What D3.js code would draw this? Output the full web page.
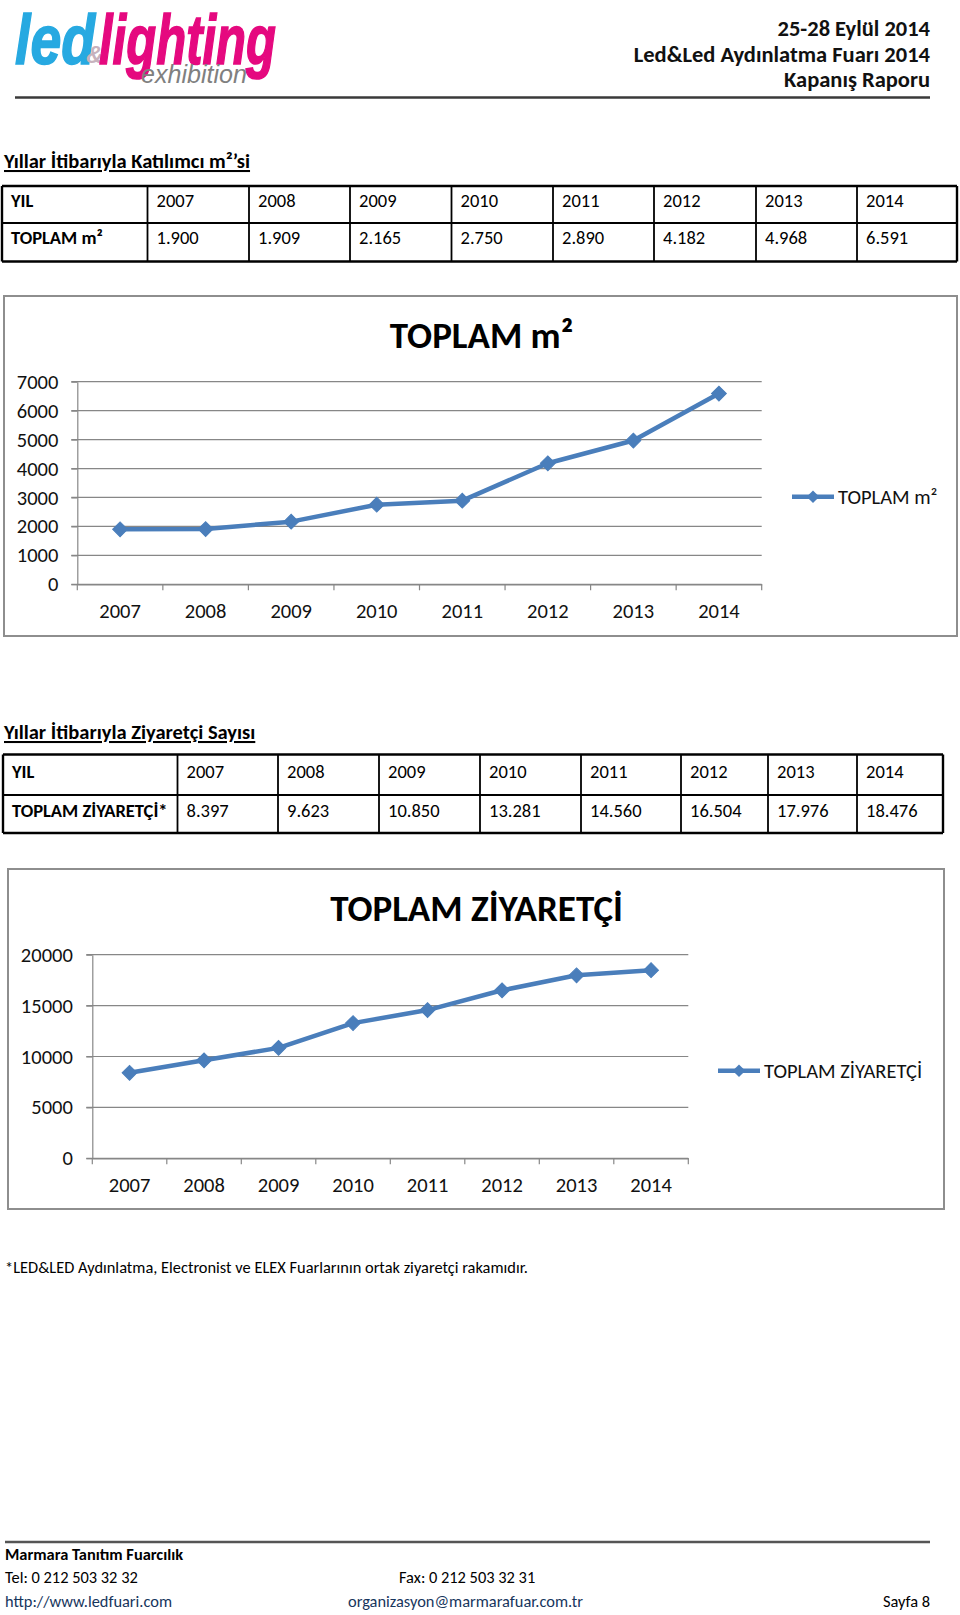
<!DOCTYPE html>
<html><head><meta charset="utf-8">
<script src="https://cdn.jsdelivr.net/npm/d3@7"></script>
<style>
body{margin:0;background:#fff}
svg{display:block}
</style></head><body>
<script>
// ---------- DATA ----------
const years = ["2007","2008","2009","2010","2011","2012","2013","2014"];
const areaValues = [1900,1909,2165,2750,2890,4182,4968,6591];
const visitorValues = [8397,9623,10850,13281,14560,16504,17976,18476];
const areaTicks = [0,1000,2000,3000,4000,5000,6000,7000];
const visitorTicks = [0,5000,10000,15000,20000];
const areaTitle = "TOPLAM m²";
const visitorTitle = "TOPLAM ZİYARETÇİ";
const areaRowLabel = "TOPLAM m²";
const visitorRowLabel = "TOPLAM ZİYARETÇİ*";
const yearRowLabel = "YIL";
const areaSection = "Yıllar İtibarıyla Katılımcı m²’si";
const visitorSection = "Yıllar İtibarıyla Ziyaretçi Sayısı";
const headerLines = ["25-28 Eylül 2014","Led&Led Aydınlatma Fuarı 2014","Kapanış Raporu"];
const footnote = "*LED&LED Aydınlatma, Electronist ve ELEX Fuarlarının ortak ziyaretçi rakamıdır.";

// ---------- SETUP ----------
const FONT = "Carlito, Calibri, Lato, 'Open Sans', sans-serif";
const BLUE = "#4a7ebb";
const GRID = "#878787";
const trFmt = d3.formatLocale({decimal:",", thousands:".", grouping:[3], currency:["",""]}).format(",");

const svg = d3.select("body").append("svg")
  .attr("width",960).attr("height",1615)
  .style("font-family",FONT);
svg.append("rect").attr("width",960).attr("height",1615).attr("fill","#fff");

// ---------- HEADER (logo as one text object) ----------
const logo = svg.append("text")
  .style("font-family","'Liberation Sans', Arial, sans-serif")
  .style("font-style","italic").style("font-weight","bold");
logo.append("tspan").attr("x",15).attr("y",64).attr("font-size",70)
  .attr("textLength",80).attr("lengthAdjust","spacingAndGlyphs")
  .attr("fill","#27a9e1").attr("stroke","#27a9e1").attr("stroke-width",1.6).text("led");
logo.append("tspan").attr("x",86).attr("y",63).attr("font-size",24)
  .attr("fill","#c7b2bd").text("&");
logo.append("tspan").attr("x",99).attr("y",64).attr("font-size",70)
  .attr("textLength",177).attr("lengthAdjust","spacingAndGlyphs")
  .attr("fill","#e5097f").attr("stroke","#e5097f").attr("stroke-width",1.6).text("lighting");
logo.append("tspan").attr("x",141).attr("y",83).attr("font-size",25)
  .style("font-weight","normal")
  .attr("textLength",106).attr("lengthAdjust","spacingAndGlyphs")
  .attr("fill","#808080").text("exhibition");

svg.append("g").selectAll("text").data(headerLines).join("text")
  .attr("x",930).attr("y",(d,i)=>36+i*25.5)
  .attr("text-anchor","end").attr("font-size",22.5).attr("font-weight","bold")
  .attr("fill","#111").text(d=>d);
svg.append("line").attr("x1",15).attr("x2",930).attr("y1",97.5).attr("y2",97.5)
  .attr("stroke","#3a3a3a").attr("stroke-width",2.5);

// ---------- SECTION TITLES ----------
function sectionTitle(txt, y){
  svg.append("text").attr("x",4).attr("y",y).attr("font-size",20.5)
    .attr("font-weight","bold").attr("fill","#000")
    .style("text-decoration","underline").text(txt);
}
sectionTitle(areaSection,168);
sectionTitle(visitorSection,739);

// ---------- TABLES ----------
function drawTable(cfg){
  const g = svg.append("g");
  const rows = [[yearRowLabel, ...years],[cfg.label, ...cfg.values.map(trFmt)]];
  const E = cfg.edges, R = cfg.rows;
  rows.forEach((row,ri)=>{
    g.selectAll(null).data(row).join("text")
      .attr("x",(d,i)=>E[i]+9)
      .attr("y",R[ri]+cfg.base[ri])
      .attr("font-size",18.5)
      .attr("font-weight",(d,i)=>i===0?"bold":"normal")
      .attr("fill","#000").text(d=>d);
  });
  g.selectAll(null).data(R).join("line")
    .attr("x1",E[0]).attr("x2",E[E.length-1]).attr("y1",d=>d).attr("y2",d=>d)
    .attr("stroke","#000").attr("stroke-width",(d,i)=>i===1?1.8:2.4);
  g.selectAll(null).data(E).join("line")
    .attr("x1",d=>d).attr("x2",d=>d).attr("y1",R[0]).attr("y2",R[R.length-1])
    .attr("stroke","#000").attr("stroke-width",(d,i)=>(i===0||i===E.length-1)?2.4:1.8);
}
drawTable({edges:[2,147.5,249,350,451.5,553,654,756,857,957],
           rows:[186,223,261.5], base:[20.5,20.5],
           label:areaRowLabel, values:areaValues});
drawTable({edges:[3,177.5,278,379,480,581,681,768,857,943],
           rows:[754.5,795,833], base:[23.3,21.8],
           label:visitorRowLabel, values:visitorValues});

// ---------- CHARTS ----------
function drawChart(c){
  const g = svg.append("g");
  g.append("rect").attr("x",c.box[0]).attr("y",c.box[1])
    .attr("width",c.box[2]-c.box[0]).attr("height",c.box[3]-c.box[1])
    .attr("fill","#fff").attr("stroke","#8e8e8e").attr("stroke-width",2);

  const x = d3.scaleBand().domain(years).range([c.px0,c.px1]);
  const y = d3.scaleLinear().domain([0,c.ticks[c.ticks.length-1]]).range([c.pyb,c.pyt]);

  // gridlines
  g.append("g").selectAll("line").data(c.ticks).join("line")
    .attr("x1",c.px0-6).attr("x2",c.px1)
    .attr("y1",d=>y(d)).attr("y2",d=>y(d))
    .attr("stroke",GRID).attr("stroke-width",1.2);

  // y axis
  const ya = g.append("g").attr("transform",`translate(${c.px0},0)`)
    .call(d3.axisLeft(y).tickValues(c.ticks).tickFormat(d=>String(d))
      .tickSize(6).tickSizeOuter(0).tickPadding(c.ypad));
  ya.select(".domain").attr("stroke",GRID).attr("stroke-width",1.2);
  ya.selectAll(".tick line").attr("stroke",GRID).attr("stroke-width",1.2);
  ya.selectAll(".tick text").attr("font-size",20.5).attr("fill","#111")
    .style("font-family",FONT);

  // x axis (labels at band centres, ticks at band boundaries like Excel)
  const xa = g.append("g").attr("transform",`translate(0,${c.pyb})`)
    .call(d3.axisBottom(x).tickSize(0).tickPadding(19));
  xa.select(".domain").attr("stroke",GRID).attr("stroke-width",1.2);
  xa.selectAll(".tick text").attr("font-size",20.5).attr("fill","#111")
    .style("font-family",FONT);
  const bounds = years.map(d=>x(d)).concat([x.range()[1]]);
  g.append("g").selectAll("line").data(bounds).join("line")
    .attr("x1",d=>d).attr("x2",d=>d).attr("y1",c.pyb).attr("y2",c.pyb+6)
    .attr("stroke",GRID).attr("stroke-width",1.2);

  // series
  const pts = years.map((yr,i)=>({yr, v:c.values[i]}));
  const cx = d=>x(d.yr)+x.bandwidth()/2;
  g.append("path").datum(pts)
    .attr("d",d3.line().x(cx).y(d=>y(d.v)))
    .attr("fill","none").attr("stroke",BLUE).attr("stroke-width",4.5)
    .attr("stroke-linejoin","round");
  const sym = d3.symbol().type(d3.symbolSquare).size(110);
  g.append("g").selectAll("path").data(pts).join("path")
    .attr("d",sym)
    .attr("transform",d=>`translate(${cx(d)},${y(d.v)}) rotate(45)`)
    .attr("fill",BLUE).attr("stroke",BLUE).attr("stroke-width",1);

  // title
  g.append("text").attr("x",c.titleX).attr("y",c.titleY)
    .attr("text-anchor","middle").attr("font-size",37).attr("font-weight","bold")
    .attr("fill","#000").text(c.title);

  // legend
  const L = c.legend;
  g.append("line").attr("x1",L[0]).attr("x2",L[1]).attr("y1",L[2]).attr("y2",L[2])
    .attr("stroke",BLUE).attr("stroke-width",4.5);
  g.append("path").attr("d",d3.symbol().type(d3.symbolSquare).size(80))
    .attr("transform",`translate(${(L[0]+L[1])/2},${L[2]}) rotate(45)`)
    .attr("fill",BLUE);
  g.append("text").attr("x",L[1]+4).attr("y",L[2]).attr("dy","0.35em")
    .attr("font-size",20.5).attr("fill","#111").text(c.title);
}

drawChart({box:[4,296,957,636], px0:77.3, px1:761.7, pyb:584.3, pyt:381.7,
  ticks:areaTicks, values:areaValues, ypad:13, title:areaTitle,
  titleX:481.5, titleY:348, legend:[792,834,496.7]});
drawChart({box:[8,869,944,1209], px0:92.3, px1:688.3, pyb:1158.3, pyt:954.7,
  ticks:visitorTicks, values:visitorValues, ypad:13.5, title:visitorTitle,
  titleX:476.5, titleY:921, legend:[718,760,1070.7]});

// ---------- FOOTNOTE & FOOTER ----------
svg.append("text").attr("x",5).attr("y",1273).attr("font-size",16.4)
  .attr("fill","#000").text(footnote);

svg.append("line").attr("x1",5).attr("x2",930).attr("y1",1542).attr("y2",1542)
  .attr("stroke","#555").attr("stroke-width",2.5);
const foot = svg.append("g").attr("font-size",16.4).attr("fill","#000");
foot.append("text").attr("x",5).attr("y",1560).attr("font-weight","bold").text("Marmara Tanıtım Fuarcılık");
foot.append("text").attr("x",5).attr("y",1583).text("Tel: 0 212 503 32 32");
foot.append("text").attr("x",399).attr("y",1583).text("Fax: 0 212 503 32 31");
foot.append("text").attr("x",5).attr("y",1607).attr("fill","#17365d").text("http://www.ledfuari.com");
foot.append("text").attr("x",348).attr("y",1607).attr("fill","#17365d").text("organizasyon@marmarafuar.com.tr");
foot.append("text").attr("x",930).attr("y",1607).attr("text-anchor","end").text("Sayfa 8");
</script>
</body></html>
